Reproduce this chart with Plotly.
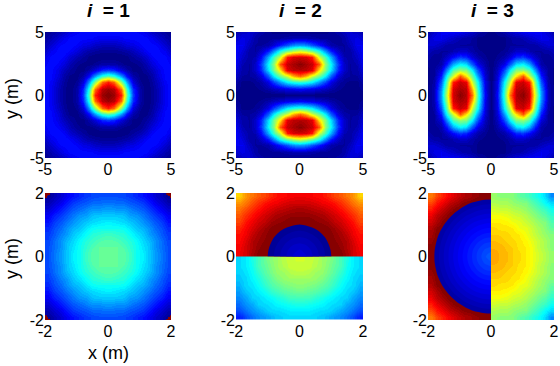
import numpy as np
import plotly.graph_objects as go

# Values are on a 0-100 jet scale (quadrants; the field is mirrored).
top_axis = [0, .5, 1, 1.5, 2, 2.5, 3, 3.5, 4, 4.5, 5]
i1_top = [
 [100,97,85,46,18,4,0,2,6,11,14],
 [97,94,77,41,16,4,0,2,6,11,14],
 [85,77,52,28,9,2,0,3,7,12,14],
 [46,41,28,13,4,1,1,4,9,13,14],
 [18,16,9,4,1,1,3,6,10,13,13],
 [4,4,2,1,1,2,5,9,12,14,12],
 [0,0,0,1,3,5,8,12,14,13,10],
 [2,2,3,4,6,9,12,14,13,11,7],
 [6,6,7,9,10,12,14,13,12,8,5],
 [11,11,12,13,13,14,13,11,8,5,3],
 [14,14,14,14,13,12,10,7,5,3,1]]
i2_top = [
 [0,0,0,0,0,0,0,0,0,0,1],
 [12,11,10,8,6,4,2,1,0,1,2],
 [42,40,36,27,19,10,4,2,1,1,4],
 [77,70,58,48,37,21,9,4,3,3,7],
 [95,94,90,65,50,34,16,7,3,4,9],
 [99,96,93,79,52,37,18,7,3,5,11],
 [92,91,85,58,45,29,13,5,4,7,12],
 [59,55,49,40,27,15,7,3,4,9,12],
 [28,26,21,15,9,4,3,3,6,11,11],
 [5,5,4,3,3,2,2,4,8,10,8],
 [1,1,1,1,1,2,4,6,8,7,4]]

bot_axis = [.1, .3, .5, .7, .9, 1.1, 1.3, 1.5, 1.7, 1.9]
i1_bot = [
 [48,47,46,43,39,36,32,28,24,20],
 [47,47,45,42,39,35,32,27,23,20],
 [46,45,43,41,38,34,31,27,23,19],
 [43,42,41,38,35,32,28,25,21,18],
 [39,39,38,35,32,30,27,23,20,16],
 [36,35,34,32,30,27,24,21,18,14],
 [32,32,31,28,27,24,21,18,15,11],
 [28,27,27,25,23,21,18,15,11,8],
 [24,23,23,21,20,18,15,11,8,5],
 [20,20,19,18,16,14,11,8,5,2]]
corner_patch = [[100,100,100],[100,100,None],[100,None,None]]
i2_bot_low = [
 [58,57,56,53,51,48,44,40,36,34],
 [57,57,55,53,50,47,44,39,36,34],
 [56,55,53,52,49,46,42,38,35,33],
 [53,53,52,50,47,44,40,37,34,32],
 [51,50,49,47,45,42,38,35,34,30],
 [48,47,46,44,42,39,36,34,32,28],
 [44,44,42,40,38,36,34,33,29,26],
 [40,39,38,37,35,34,33,29,27,23],
 [36,36,35,34,34,32,29,27,24,20],
 [34,34,33,32,30,28,26,23,20,15]]
i2_bot_up = [
 [100,100,100,100,100,100,99,96,92,89],
 [100,100,100,100,100,100,98,95,92,88],
 [100,100,100,100,100,99,97,95,91,87],
 [100,100,100,100,100,98,96,93,89,86],
 [100,100,100,100,99,97,94,91,88,84],
 [100,100,99,98,97,94,92,89,86,81],
 [98,98,97,96,94,92,89,86,83,79],
 [96,95,94,93,91,89,86,83,80,76],
 [92,92,91,89,88,86,83,80,76,73],
 [89,88,87,86,84,81,79,76,73,67]]
i2_disc_axis = [0, .2, .4, .6, .8, 1, 1.2]
i2_disc = [
 [9.6,8,6.4,4.8,3.2,1.6,0],
 [8,7.3,6,4.5,3,1.4,-.2],
 [6.4,6,5,3.8,2.4,.9,-.6],
 [4.8,4.5,3.8,2.8,1.6,.2,-1.2],
 [3.2,3,2.4,1.6,.5,-.7,-2],
 [1.6,1.4,.9,.2,-.7,-1.7,-2.9],
 [0,-.2,-.6,-1.2,-2,-2.9,-4]]
i3_bot_left = [
 [100,100,100,100,100,100,100,100,100,99],
 [100,100,100,100,100,100,100,100,100,99],
 [100,100,100,100,100,100,100,100,100,98],
 [100,100,100,100,100,100,100,100,100,96],
 [100,100,100,100,100,100,100,100,99,95],
 [100,100,100,100,100,100,100,100,96,92],
 [100,100,100,100,100,100,100,97,94,89],
 [100,100,100,100,100,100,97,94,90,85],
 [100,100,100,100,99,96,94,90,86,81],
 [99,99,98,96,95,92,89,85,81,75]]
i3_bot_right = [
 [71,70,69,67,66,64,61,58,55,52],
 [70,70,68,67,65,64,61,57,54,51],
 [69,68,67,66,65,63,60,57,54,51],
 [67,67,66,65,64,61,58,55,52,50],
 [66,65,65,64,61,60,57,54,51,47],
 [64,64,63,61,60,57,55,52,50,45],
 [61,61,60,58,57,55,52,49,46,42],
 [58,57,57,55,54,52,49,46,43,39],
 [55,54,54,52,51,50,46,43,38,34],
 [52,51,51,50,47,45,42,39,34,26]]
i3_disc_axis = [0, .2, .4, .6, .8, 1, 1.2, 1.4, 1.6, 1.8, 2]
i3_disc = [
 [22,19.9,17.8,15.7,13.6,11.5,9.4,7.3,5.2,3.1,1],
 [19.9,19,17.3,15.4,13.3,11.3,9.2,7.2,5.1,3,.9],
 [17.8,17.3,16.1,14.4,12.6,10.7,8.7,6.7,4.7,2.6,.6],
 [15.7,15.4,14.4,13.1,11.5,9.8,7.9,6,4.1,2.1,.1],
 [13.6,13.3,12.6,11.5,10.1,8.6,6.9,5.1,3.2,1.3,-.6],
 [11.5,11.3,10.7,9.8,8.6,7.2,5.6,3.9,2.2,.4,-1.5],
 [9.4,9.2,8.7,7.9,6.9,5.6,4.2,2.6,1,-.7,-2.5],
 [7.3,7.2,6.7,6,5.1,3.9,2.6,1.2,-.3,-1.9,-3.6],
 [5.2,5.1,4.7,4.1,3.2,2.2,1,-.3,-1.8,-3.3,-4.9],
 [3.1,3,2.6,2.1,1.3,.4,-.7,-1.9,-3.3,-4.7,-6.2],
 [1,.9,.6,.1,-.6,-1.5,-2.5,-3.6,-4.9,-6.2,-7.7]]

titles = ["1", "2", "3"]
top_ticks = [-5, 0, 5]
bot_ticks = [-2, 0, 2]


def fliplr(rows):
    return [list(reversed(r)) for r in rows]


def neg(axis):
    return [-a for a in reversed(axis)]


def full_x(rows):      # x symmetric, axis includes 0
    return [list(reversed(r[1:])) + list(r) for r in rows]


def sym_x(rows):       # x symmetric, axis excludes 0
    return [list(reversed(r)) + list(r) for r in rows]


def jet(t):
    r = np.clip(min(4 * t - 1.5, -4 * t + 4.5), 0, 1)
    g = np.clip(min(4 * t - 0.5, -4 * t + 3.5), 0, 1)
    b = np.clip(min(4 * t + 0.5, -4 * t + 2.5), 0, 1)
    return "rgb(%d,%d,%d)" % (r * 255, g * 255, b * 255)


N = 64
LEVEL = 100 / N
jet64 = []
for k in range(N):
    c = jet((k + 0.5) / N)
    jet64 += [[k / N, c], [(k + 1) / N, c]]

fig = go.Figure()
FONT = "Liberation Sans, Arial, sans-serif"


def axes(panel):
    s = "" if panel == 1 else str(panel)
    return dict(xaxis="x" + s, yaxis="y" + s)


def heat(panel, x, y, z, smooth):
    fig.add_trace(go.Heatmap(
        x=x, y=y, z=z, zmin=0, zmax=100, colorscale=jet64, showscale=False,
        zsmooth="best" if smooth else False, hoverinfo="skip", **axes(panel)))


def disc(panel, x, y, z, first, last):
    """Banded region with a sharp rim: jet levels first..last-1, see-through below them."""
    start = (first - 1) * LEVEL
    end = last * LEVEL
    lo = start - LEVEL / 2
    span = end + LEVEL / 2 - lo
    scale = [[0, "rgba(0,0,0,0)"], [(first * LEVEL - lo) / span, "rgba(0,0,0,0)"]]
    for k in range(first, last + 1):
        c = jet((k + 0.5) / N)
        a = max((k * LEVEL - lo) / span, scale[-1][0])
        b = min(((k + 1) * LEVEL - lo) / span, 1)
        scale += [[a, c], [b, c]]
    scale[-1][0] = 1
    fig.add_trace(go.Contour(
        x=x, y=y, z=z, colorscale=scale, showscale=False, autocontour=False,
        contours=dict(start=start, end=end, size=LEVEL, coloring="fill", showlines=False),
        line=dict(width=0), hoverinfo="skip", **axes(panel)))


# top row
tx = neg(top_axis[1:]) + top_axis
i3_top = [list(c) for c in zip(*i2_top)]
for p, q in zip((1, 2, 3), (i1_top, i2_top, i3_top)):
    z = full_x(q)
    z = list(reversed(z[1:])) + z
    heat(p, tx, tx, z, True)

# bottom row, panel 1
bx = neg(bot_axis) + bot_axis
z = sym_x(i1_bot)
heat(4, bx, bx, list(reversed(z)) + z, True)
step = [1.875, 1.925, 1.975]
for sy in (-1, 1):
    rows = corner_patch if sy < 0 else list(reversed(corner_patch))
    yy = [-2 + .025, -2 + .075, -2 + .125] if sy < 0 else step
    heat(4, [-2 + .025, -2 + .075, -2 + .125], yy, rows, False)
    heat(4, step, yy, fliplr(rows), False)

# bottom row, panel 2
heat(5, bx, bot_axis, sym_x(i2_bot_up), True)
heat(5, bx, neg(bot_axis), list(reversed(sym_x(i2_bot_low))), True)
disc(5, neg(i2_disc_axis[1:]) + i2_disc_axis, i2_disc_axis, full_x(i2_disc), 1, 6)

# bottom row, panel 3
left = fliplr(i3_bot_left)
heat(6, neg(bot_axis), bx, list(reversed(left)) + left, True)
heat(6, bot_axis, bx, list(reversed(i3_bot_right)) + i3_bot_right, True)
d = fliplr(i3_disc)
disc(6, neg(i3_disc_axis), neg(i3_disc_axis[1:]) + i3_disc_axis, list(reversed(d[1:])) + d, 2, 14)

W, H = 560, 366
col_px = [(45, 171), (236, 363), (428, 554)]
row_px = [(32, 158), (193, 320)]
layout = dict(width=W, height=H, margin=dict(l=0, r=0, t=0, b=0, autoexpand=False),
              paper_bgcolor="white", plot_bgcolor="white", showlegend=False,
              font=dict(family=FONT, size=16, color="black"))
for n in range(6):
    rw = n // 3
    cl = n % 3
    x0, x1 = col_px[cl]
    y0, y1 = row_px[rw]
    ticks = top_ticks if rw == 0 else bot_ticks
    lim = [ticks[0], ticks[-1]]
    sfx = "" if n == 0 else str(n + 1)
    common = dict(range=lim, tickmode="array", tickvals=ticks,
                  ticktext=[str(t) for t in ticks], ticks="", showgrid=False, zeroline=False,
                  showline=False, tickangle=0,
                  tickfont=dict(family=FONT, size=16, color="black"))
    layout["xaxis" + sfx] = dict(domain=[x0 / W, x1 / W], anchor="y" + sfx, **common)
    layout["yaxis" + sfx] = dict(domain=[1 - y1 / H, 1 - y0 / H], anchor="x" + sfx, **common)
fig.update_layout(**layout)


def label(x, y, text, size=18, angle=0):
    fig.add_annotation(x=x / W, y=1 - y / H, xref="paper", yref="paper", text=text,
                       showarrow=False, textangle=angle, xanchor="center", yanchor="middle",
                       font=dict(family=FONT, size=size, color="black"))


for cx, t in zip((108, 300, 492), titles):
    label(cx, 10, "<b><i>i</i>  = %s</b>" % t, size=19)
label(12, 99, "y (m)", angle=-90)
label(12, 259, "y (m)", angle=-90)
label(108, 353, "x (m)")

fig.write_html("out.html", post_script="document.body.style.margin='0';",
               config={"displayModeBar": False})
